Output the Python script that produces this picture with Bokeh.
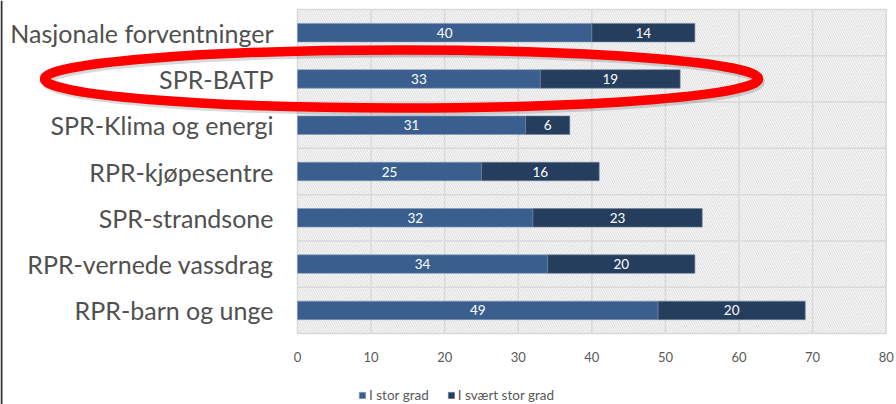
from bokeh.plotting import figure
from bokeh.models import Range1d, ColumnDataSource, Legend, LegendItem, Span
from bokeh.core.properties import value
from bokeh.embed import file_html
from bokeh.resources import INLINE

# ---- data ----
categories = ["Nasjonale forventninger", "SPR-BATP", "SPR-Klima og energi",
              "RPR-kjøpesentre", "SPR-strandsone", "RPR-vernede vassdrag",
              "RPR-barn og unge"]
i_stor_grad = [40, 33, 31, 25, 32, 34, 49]
i_svaert_stor_grad = [14, 19, 6, 16, 23, 20, 20]
series_names = ["I stor grad", "I svært stor grad"]
x_ticks = [0, 10, 20, 30, 40, 50, 60, 70, 80]
x_tick_labels = ["0", "10", "20", "30", "40", "50", "60", "70", "80"]
highlighted = "SPR-BATP"

# ---- layout constants ----
W, H = 896, 404
PX0 = 297.0            # pixel of x=0 in figure
PXU = 588.7 / 80.0     # pixels per unit
BAND = 46.29           # pixels per category band
TOP = 9.0              # pixel of plot-area top

FONT = "Lato"
C1 = "#3A5F8E"
C2 = "#263E5E"
GRID = "#D9D9D9"

x_start = -PX0 / PXU
x_end = (W - PX0) / PXU
y_top = -0.5 - TOP / BAND
y_bottom = -0.5 + (H - TOP) / BAND

p = figure(width=W, height=H, x_range=Range1d(x_start, x_end),
           y_range=Range1d(y_bottom, y_top), x_axis_type=None, y_axis_type=None,
           min_border=0, toolbar_location=None, output_backend="svg")
p.outline_line_color = None
p.background_fill_color = "white"
p.border_fill_color = "white"

n = len(categories)
ys = list(range(n))
xmin, xmax = x_ticks[0], x_ticks[-1]

# hatched plot area
p.quad(left=[xmin], right=[xmax], top=[-0.5], bottom=[n - 0.5],
       fill_color="white", line_color=None,
       hatch_pattern="\\", hatch_color="#D8D8D8", hatch_scale=4.5, hatch_weight=1)

# grid lines
p.segment(x0=x_ticks, x1=x_ticks, y0=[-0.5] * len(x_ticks), y1=[n - 0.5] * len(x_ticks),
          line_color=GRID, line_width=1.5)
bounds = [k - 0.5 for k in range(n + 1)]
p.segment(x0=[xmin] * len(bounds), x1=[xmax] * len(bounds), y0=bounds, y1=bounds,
          line_color=GRID, line_width=1.5)

# bars
ends = [a + b for a, b in zip(i_stor_grad, i_svaert_stor_grad)]
src = ColumnDataSource(dict(y=ys, a=i_stor_grad, b=i_svaert_stor_grad, e=ends,
                            zero=[0] * n,
                            ma=[v / 2 for v in i_stor_grad],
                            mb=[a + b / 2 for a, b in zip(i_stor_grad, i_svaert_stor_grad)],
                            ta=[str(v) for v in i_stor_grad],
                            tb=[str(v) for v in i_svaert_stor_grad]))
r1 = p.hbar(y="y", left="zero", right="a", height=0.4, source=src,
            fill_color=C1, line_color="#7F97B5", line_width=0.6)
r2 = p.hbar(y="y", left="a", right="e", height=0.4, source=src,
            fill_color=C2, line_color="#6F8099", line_width=0.6)

p.text(x="ma", y="y", text="ta", source=src, text_color="white",
       text_font=value(FONT), text_font_size="13.5px", text_align="center",
       text_baseline="middle")
p.text(x="mb", y="y", text="tb", source=src, text_color="white",
       text_font=value(FONT), text_font_size="13.5px", text_align="center",
       text_baseline="middle")

# category labels
lab_x = (273 - PX0) / PXU
p.text(x=[lab_x] * n, y=ys, text=categories, text_color="#505050",
       text_font=value(FONT), text_font_size="25px", text_align="right",
       text_baseline="middle")

# x tick labels
tick_y = -0.5 + (356.7 - TOP) / BAND
p.text(x=x_ticks, y=[tick_y] * len(x_ticks), text=x_tick_labels, text_color="#595959",
       text_font=value(FONT), text_font_size="13px", text_align="center",
       text_baseline="middle")

# red ellipse highlight
hy = categories.index(highlighted)
ex = (401 - PX0) / PXU
p.ellipse(x=[ex + 2 / PXU], y=[hy + 3 / BAND], width=714, height=58,
          width_units="screen", height_units="screen",
          fill_color=None, line_color="#000000", line_alpha=0.15, line_width=9)
p.ellipse(x=[ex], y=[hy], width=714, height=58,
          width_units="screen", height_units="screen",
          fill_color=None, line_color="#FF0000", line_width=9.5)

# left border of the chart area
p.add_layout(Span(location=x_start + 1 / PXU, dimension="height",
                  line_color="#333333", line_width=2))

legend = Legend(items=[LegendItem(label=series_names[0], renderers=[r1]),
                       LegendItem(label=series_names[1], renderers=[r2])],
                location=(358, 1), orientation="horizontal",
                glyph_width=8, glyph_height=8, label_height=14,
                label_standoff=3, spacing=18, padding=0, margin=0,
                label_text_font=FONT, label_text_font_size="13.5px",
                label_text_color="#595959",
                border_line_color=None, background_fill_alpha=0)
p.add_layout(legend)

open("out.html", "w").write(file_html(p, INLINE))
